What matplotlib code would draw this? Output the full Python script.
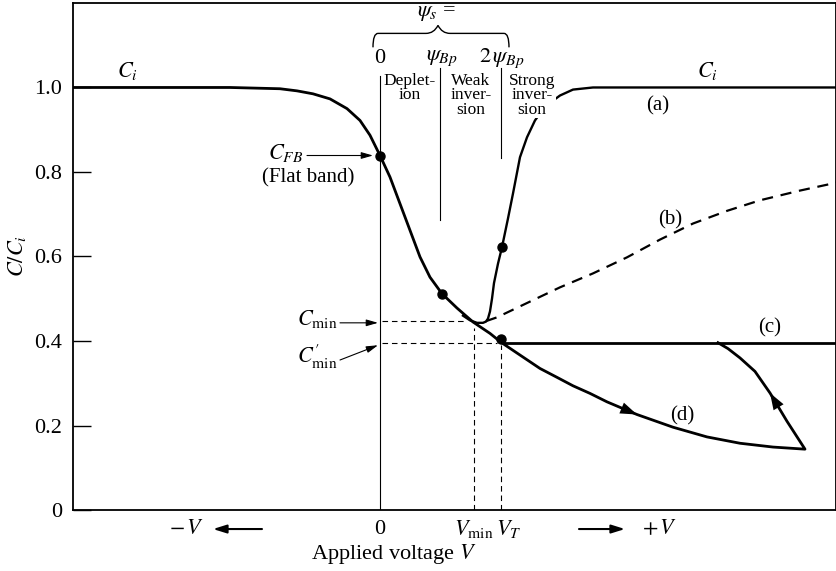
import numpy as np
import matplotlib
matplotlib.use('Agg')
import matplotlib.pyplot as plt
from matplotlib.path import Path
import matplotlib.patches as mpatches

plt.rcParams['font.family'] = ['Liberation Serif', 'DejaVu Serif']
plt.rcParams['mathtext.fontset'] = 'stix'

# main curve (accumulation -> depletion, down to V_T)
main_v = [-3.08, -2.00, -1.50, -1.00, -0.83, -0.67, -0.50, -0.33, -0.20, -0.10, 0.00,
          0.10, 0.20, 0.30, 0.40, 0.50, 0.62, 0.77, 0.93, 1.10, 1.21]
main_c = [1.000, 1.000, 1.000, 0.997, 0.992, 0.985, 0.973, 0.950, 0.922, 0.887, 0.839,
          0.788, 0.725, 0.662, 0.599, 0.551, 0.512, 0.478, 0.445, 0.418, 0.397]

# (a) low frequency
a_v = [0.83, 0.90, 0.97, 1.03, 1.06, 1.08, 1.10, 1.12, 1.14, 1.18, 1.22, 1.28, 1.33, 1.40,
       1.47, 1.55, 1.65, 1.80, 1.93, 2.13, 4.56]
a_c = [0.460, 0.449, 0.443, 0.443, 0.446, 0.453, 0.470, 0.500, 0.537, 0.583, 0.622, 0.690,
       0.749, 0.835, 0.882, 0.922, 0.955, 0.981, 0.995, 1.000, 1.000]

# (b) intermediate frequency
b_v = [1.06, 1.17, 1.40, 1.80, 2.13, 2.47, 2.80, 3.13, 3.47, 3.80, 4.20, 4.57]
b_c = [0.447, 0.456, 0.482, 0.527, 0.560, 0.598, 0.640, 0.678, 0.708, 0.733, 0.756, 0.775]

# (c) high frequency
c_v = [1.24, 4.56]
c_c = [0.396, 0.396]

# (d) deep depletion and return
d_v = [1.21, 1.43, 1.60, 1.77, 1.93, 2.10, 2.27, 2.57, 2.93, 3.27, 3.60, 3.93, 4.25,
       4.07, 3.90, 3.75, 3.60, 3.48, 3.38]
d_c = [0.397, 0.362, 0.335, 0.314, 0.294, 0.276, 0.256, 0.226, 0.196, 0.173, 0.158, 0.149, 0.144,
       0.210, 0.277, 0.328, 0.360, 0.382, 0.396]

# marked points
dot_v = [0.00, 0.62, 1.22, 1.21]
dot_c = [0.839, 0.512, 0.622, 0.404]

c_fb = 0.839
c_min = 0.448
c_min_p = 0.396
v_min = 0.943
v_t = 1.21
psi_bp = 0.60
psi_2bp = 1.21

yticks = [0, 0.2, 0.4, 0.6, 0.8, 1.0]
ytick_labels = ['0', '0.2', '0.4', '0.6', '0.8', '1.0']

fig = plt.figure(figsize=(8.37, 5.71), dpi=100)
ax = fig.add_axes([0.0872, 0.1068, 0.9116, 0.888])
ax.set_xlim(-3.07, 4.56)
ax.set_ylim(0, 1.2)

lw = 2.0
ax.plot(main_v, main_c, color='k', lw=lw, solid_joinstyle='round', zorder=3)
ax.plot(a_v, a_c, color='k', lw=1.7, solid_joinstyle='round', zorder=2)
ax.plot(b_v, b_c, color='k', lw=1.6, ls=(0, (5, 3.5)), zorder=2)
ax.plot(c_v, c_c, color='k', lw=lw, zorder=2)
ax.plot(d_v, d_c, color='k', lw=lw, solid_joinstyle='round', zorder=2)
ax.plot(dot_v, dot_c, 'o', color='k', ms=6.5, zorder=4)

# arrows along curve (d)
for i in [7, 14]:
    ax.annotate('', xy=(d_v[i], d_c[i]), xytext=(d_v[i - 1], d_c[i - 1]),
                arrowprops=dict(arrowstyle='-|>,head_length=0.8,head_width=0.28',
                                mutation_scale=15, color='k', lw=0,
                                shrinkA=0, shrinkB=0), zorder=4)

# thin vertical lines
ax.plot([0, 0], [0, 1.028], color='k', lw=0.8)
ax.plot([psi_bp, psi_bp], [0.686, 1.045], color='k', lw=0.8)
ax.plot([psi_2bp, psi_2bp], [0.832, 1.045], color='k', lw=0.8)

# dashed guide lines
dash = (0, (5, 3.5))
ax.plot([0.02, 0.85], [c_min, c_min], color='k', lw=0.8, ls=dash)
ax.plot([0.02, 1.17], [c_min_p, c_min_p], color='k', lw=0.8, ls=dash)
ax.plot([v_min, v_min], [0, 0.43], color='k', lw=0.8, ls=dash)
ax.plot([v_t, v_t], [0, 0.39], color='k', lw=0.8, ls=dash)

# brace over the psi_s labels
bl, br, bm = -0.07, 1.29, 0.58
yb, yt, yp = 1.095, 1.128, 1.147
verts = [(bl, yb), (bl, yt), (bl + 0.05, yt),
         (bm - 0.12, yt), (bm - 0.04, yt), (bm, yp),
         (bm + 0.04, yt), (bm + 0.12, yt),
         (br - 0.05, yt), (br, yt), (br, yb)]
codes = [Path.MOVETO, Path.CURVE3, Path.CURVE3,
         Path.LINETO, Path.CURVE3, Path.CURVE3,
         Path.CURVE3, Path.CURVE3,
         Path.LINETO, Path.CURVE3, Path.CURVE3]
ax.add_patch(mpatches.PathPatch(Path(verts, codes), fill=False, lw=1.0,
                                color='k', clip_on=False))

fs = 15
ms = 16
ax.text(bm - 0.01, 1.175, r'$\psi_s$ =', fontsize=ms, ha='center', va='center')
ax.text(0.0, 1.069, '0', fontsize=ms, ha='center', va='center')
ax.text(psi_bp + 0.02, 1.069, r'$\psi_{Bp}$', fontsize=ms, ha='center', va='center')
ax.text(psi_2bp + 0.01, 1.069, r'$2\,\psi_{Bp}$', fontsize=ms, ha='center', va='center')

rs = 12.5
ax.text(0.30, 1.034, 'Deplet-\nion', fontsize=rs, ha='center', va='top', linespacing=0.85)
ax.text(0.91, 1.034, 'Weak\ninver-\nsion', fontsize=rs, ha='center', va='top', linespacing=0.85)
ax.text(1.52, 1.034, 'Strong\ninver-\nsion', fontsize=rs, ha='center', va='top',
        linespacing=0.85, zorder=5,
        bbox=dict(facecolor='white', edgecolor='none', pad=0.3))

# curve labels
ax.text(-2.53, 1.04, r'$C_i$', fontsize=ms, ha='center', va='center')
ax.text(3.27, 1.04, r'$C_i$', fontsize=ms, ha='center', va='center')
ax.text(2.78, 0.957, '(a)', fontsize=fs, ha='center', va='center')
ax.text(2.90, 0.686, '(b)', fontsize=fs, ha='center', va='center')
ax.text(3.90, 0.430, '(c)', fontsize=fs, ha='center', va='center')
ax.text(3.02, 0.222, '(d)', fontsize=fs, ha='center', va='center')

# left-side annotations
arr = dict(arrowstyle='-|>,head_length=0.7,head_width=0.2', color='k', lw=0.8,
           shrinkA=0, shrinkB=0)
ax.annotate('', xy=(-0.07, c_fb), xytext=(-0.73, c_fb), arrowprops=arr)
ax.text(-0.77, c_fb + 0.005, r'$C_{FB}$', fontsize=ms, ha='right', va='center')
ax.text(-0.72, 0.785, '(Flat band)', fontsize=fs, ha='center', va='center')
ax.annotate('', xy=(-0.02, 0.443), xytext=(-0.40, 0.443), arrowprops=arr)
ax.text(-0.42, 0.452, r'$C_{\mathrm{min}}$', fontsize=ms, ha='right', va='center')
ax.annotate('', xy=(-0.02, 0.390), xytext=(-0.40, 0.355), arrowprops=arr)
ax.text(-0.42, 0.362, r"$C^{\prime}_{\mathrm{min}}$", fontsize=ms, ha='right', va='center')

# axis text below
yl = -0.045
ax.text(0.0, yl, '0', fontsize=ms, ha='center', va='center', clip_on=False)
ax.text(v_min - 0.01, yl, r'$V_{\mathrm{min}}$', fontsize=ms, ha='center', va='center', clip_on=False)
ax.text(v_t + 0.08, yl, r'$V_T$', fontsize=ms, ha='center', va='center', clip_on=False)
ax.text(-1.93, yl, r'$-\,V$', fontsize=ms, ha='center', va='center', clip_on=False)
ax.text(2.80, yl, r'$+\,V$', fontsize=ms, ha='center', va='center', clip_on=False)
big = dict(arrowstyle='-|>,head_length=0.8,head_width=0.25', color='k', lw=1.5,
           shrinkA=0, shrinkB=0)
ax.annotate('', xy=(-1.67, yl), xytext=(-1.18, yl), arrowprops=big, annotation_clip=False)
ax.annotate('', xy=(2.45, yl), xytext=(1.99, yl), arrowprops=big, annotation_clip=False)
ax.text(0.14, -0.105, r'Applied voltage $V$', fontsize=16, ha='center', va='center',
        clip_on=False)

ax.set_ylabel(r'$C/C_i$', fontsize=ms, labelpad=4)
ax.set_xticks([])
ax.set_yticks(yticks)
ax.set_yticklabels(ytick_labels, fontsize=16)
ax.tick_params(axis='y', direction='in', length=13, width=1, pad=8)
for s in ax.spines.values():
    s.set_linewidth(1.3)

fig.savefig('out.png', dpi=100)
